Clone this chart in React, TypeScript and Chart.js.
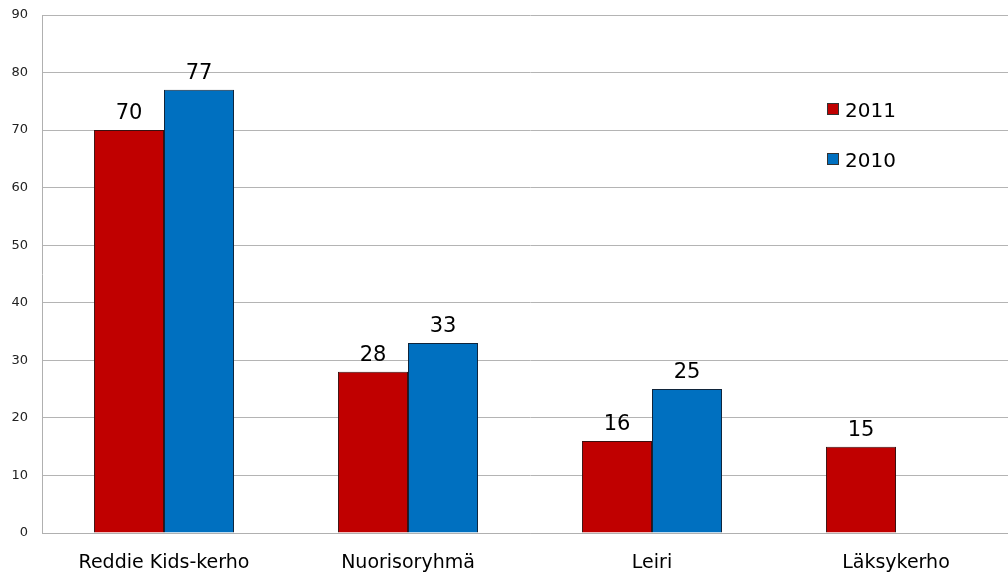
import React, { useEffect, useRef } from "react";
import { Chart, registerables } from "chart.js";

Chart.register(...registerables);

const categories = ["Reddie Kids-kerho", "Nuorisoryhmä", "Leiri", "Läksykerho"];
const series2011 = [70, 28, 16, 15];
const series2010: (number | null)[] = [77, 33, 25, null];
const seriesNames = ["2011", "2010"];
const seriesColors = ["#c00000", "#0070c0"];
const yTicks = [0, 10, 20, 30, 40, 50, 60, 70, 80, 90];

const FONT = "'DejaVu Sans', Verdana, sans-serif";

const labelsPlugin = {
  id: "valueLabels",
  afterDatasetsDraw(chart: any) {
    const ctx = chart.ctx;
    ctx.save();
    ctx.font = `21px ${FONT}`;
    ctx.fillStyle = "#000";
    ctx.textAlign = "center";
    ctx.textBaseline = "alphabetic";
    chart.data.datasets.forEach((ds: any, di: number) => {
      const meta = chart.getDatasetMeta(di);
      meta.data.forEach((bar: any, i: number) => {
        const v = ds.data[i];
        if (v === null || v === undefined) return;
        ctx.fillText(String(v), bar.x, bar.y - 11);
      });
    });
    ctx.restore();
  },
};

const legendPlugin = {
  id: "customLegend",
  afterDraw(chart: any) {
    const ctx = chart.ctx;
    ctx.save();
    ctx.font = `20px ${FONT}`;
    ctx.textBaseline = "alphabetic";
    ctx.textAlign = "left";
    seriesNames.forEach((name, i) => {
      const y = 103 + i * 50;
      ctx.fillStyle = seriesColors[i];
      ctx.fillRect(827, y, 12, 12);
      ctx.strokeStyle = "#333";
      ctx.lineWidth = 1;
      ctx.strokeRect(827.5, y + 0.5, 11, 11);
      ctx.fillStyle = "#000";
      ctx.fillText(name, 845, y + 14);
    });
    ctx.restore();
  },
};

export default function App() {
  const ref = useRef<HTMLCanvasElement>(null);
  useEffect(() => {
    document.body.style.margin = "0";
    document.body.style.overflow = "hidden";
    const chart = new Chart(ref.current!, {
      type: "bar",
      data: {
        labels: categories,
        datasets: [
          {
            label: seriesNames[0],
            data: series2011,
            backgroundColor: seriesColors[0],
            borderColor: "#3a1010",
            borderWidth: 1,
          },
          {
            label: seriesNames[1],
            data: series2010,
            backgroundColor: seriesColors[1],
            borderColor: "#10243a",
            borderWidth: 1,
          },
        ],
      },
      options: {
        animation: false,
        responsive: false,
        maintainAspectRatio: false,
        layout: { padding: { top: 15, right: 12, left: 0, bottom: 0 } },
        plugins: { legend: { display: false }, tooltip: { enabled: false } },
        datasets: { bar: { categoryPercentage: 0.574, barPercentage: 1 } },
        scales: {
          x: {
            grid: { display: false, drawTicks: false },
            border: { display: true, color: "#b0b0b0" },
            ticks: {
              color: "#000",
              font: { family: FONT, size: 19 },
              padding: 19,
              maxRotation: 0,
              autoSkip: false,
            },
            afterFit(scale: any) {
              scale.height = 45;
              scale.paddingLeft = 0;
              scale.paddingRight = 0;
            },
          },
          y: {
            min: 0,
            max: 90,
            afterBuildTicks(scale: any) {
              scale.ticks = yTicks.map((v) => ({ value: v }));
            },
            grid: { color: "#b4b4b4", drawTicks: false },
            border: { display: true, color: "#b0b0b0" },
            ticks: {
              color: "#222",
              font: { family: FONT, size: 13 },
              padding: 14,
            },
            afterFit(scale: any) {
              scale.width = 42;
              scale.paddingTop = 0;
              scale.paddingBottom = 0;
            },
          },
        },
      },
      plugins: [labelsPlugin, legendPlugin],
    });
    return () => chart.destroy();
  }, []);
  return (
    <div style={{ position: "absolute", left: 0, top: 0, width: 1008, height: 578, overflow: "hidden", background: "#fff" }}>
      <canvas ref={ref} width={1030} height={578} style={{ display: "block", width: 1030, height: 578 }} />
    </div>
  );
}
